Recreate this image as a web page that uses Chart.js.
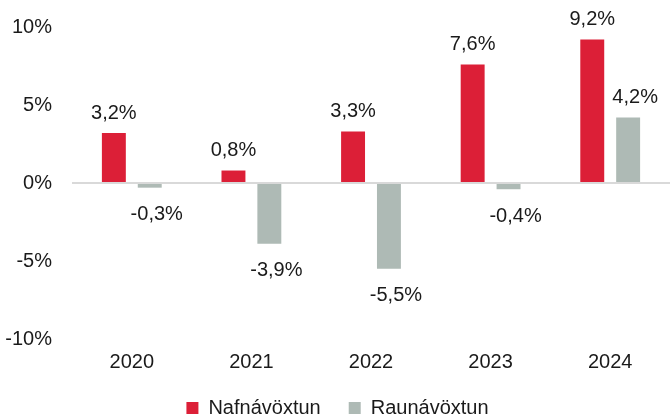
<!DOCTYPE html>
<html>
<head>
<meta charset="utf-8">
<script src="https://cdn.jsdelivr.net/npm/chart.js@4"></script>
<style>
  html, body { margin: 0; padding: 0; background: #fff; overflow: hidden; }
  #wrap { width: 670px; height: 416px; }
</style>
</head>
<body>
<div id="wrap"><canvas id="chart"></canvas></div>
<script>
const years = ['2020', '2021', '2022', '2023', '2024'];
const nominal = [3.2, 0.8, 3.3, 7.6, 9.2];
const real = [-0.3, -3.9, -5.5, -0.4, 4.2];
const seriesNames = ['Nafnávöxtun', 'Raunávöxtun'];

const fmt = v => v.toFixed(1).replace('.', ',') + '%';

// draws the value above / below each bar
const valueLabels = {
    id: 'valueLabels',
    afterDatasetsDraw(chart) {
        const ctx = chart.ctx;
        ctx.save();
        ctx.font = '20px "Liberation Sans", Arial, sans-serif';
        ctx.fillStyle = '#1a1a1a';
        ctx.textAlign = 'center';
        chart.data.datasets.forEach((ds, i) => {
            const dx = i === 1 ? 7 : 0; // second series labels sit a bit to the right
            chart.getDatasetMeta(i).data.forEach((bar, j) => {
                const v = ds.data[j];
                if (v >= 0) {
                    ctx.textBaseline = 'bottom';
                    ctx.fillText(fmt(v), bar.x + dx, bar.y - 10);
                } else {
                    ctx.textBaseline = 'top';
                    ctx.fillText(fmt(v), bar.x + dx, bar.y + 17);
                }
            });
        });
        ctx.restore();
    }
};

Chart.defaults.font.family = '"Liberation Sans", Arial, sans-serif';
Chart.defaults.font.size = 20;
Chart.defaults.color = '#1a1a1a';

new Chart(document.getElementById('chart').getContext('2d'), {
    type: 'bar',
    data: {
        labels: years,
        datasets: [{
            label: seriesNames[0],
            data: nominal,
            backgroundColor: '#dc1f37',
            categoryPercentage: 0.6,
            barPercentage: 0.667
        }, {
            label: seriesNames[1],
            data: real,
            backgroundColor: '#aebab5',
            categoryPercentage: 0.6,
            barPercentage: 0.667
        }]
    },
    options: {
        responsive: true,
        maintainAspectRatio: false,
        animation: false,
        layout: { padding: { top: 27, right: 0, left: 5, bottom: -12 } },
        plugins: {
            legend: {
                position: 'bottom',
                labels: { boxWidth: 12, boxHeight: 12, padding: 28 }
            },
            tooltip: { enabled: false }
        },
        scales: {
            x: {
                grid: { display: false },
                border: { display: false },
                ticks: { padding: 3 },
                afterFit: scale => { scale.height -= 7; }
            },
            y: {
                min: -10,
                max: 10,
                border: { display: false },
                grid: {
                    color: ctx => ctx.tick.value === 0 ? '#d9d9d9' : 'rgba(0,0,0,0)',
                    lineWidth: 2,
                    drawTicks: false
                },
                ticks: {
                    stepSize: 5,
                    padding: 20,
                    callback: v => v + '%'
                },
                afterFit: scale => {
                    scale.width = 67;
                    scale.paddingTop = 0;
                    scale.paddingBottom = 0;
                }
            }
        }
    },
    plugins: [valueLabels]
});
</script>
</body>
</html>
